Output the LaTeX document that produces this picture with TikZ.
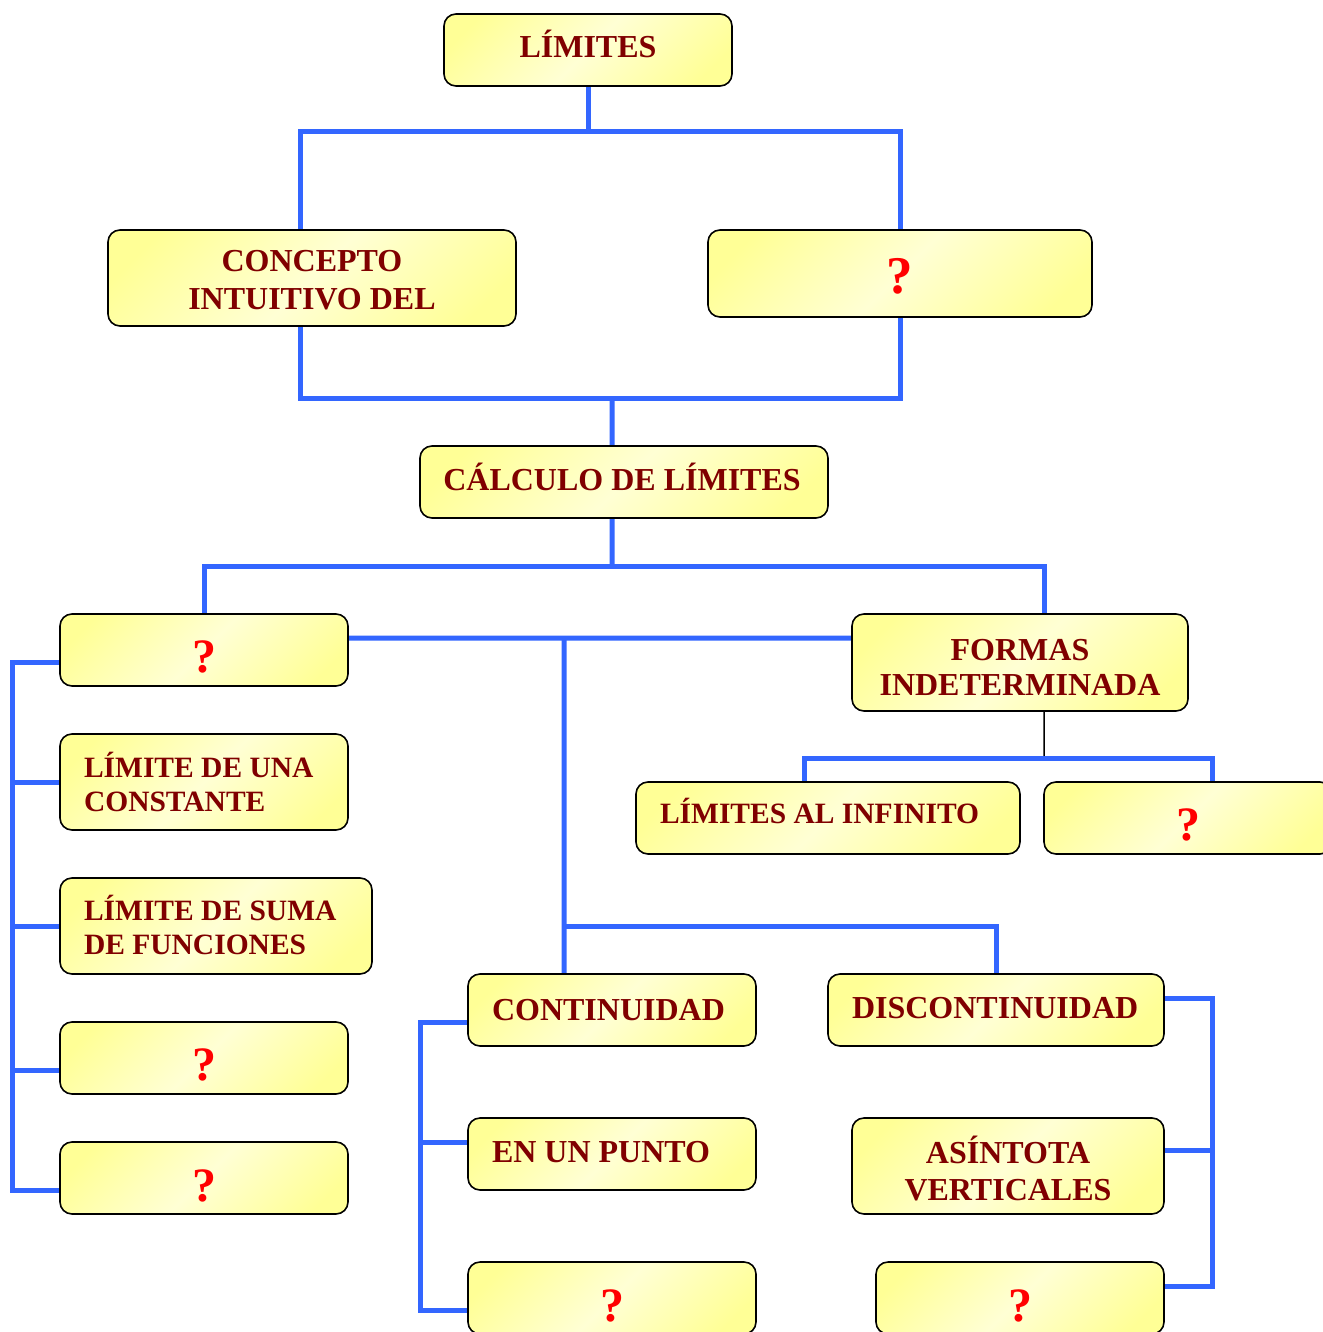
\documentclass[tikz,border=0pt]{standalone}
\usepackage{fontspec}
\setmainfont{Liberation Serif}
\definecolor{boxY}{RGB}{255,255,150}
\definecolor{boxP}{RGB}{255,255,212}
\definecolor{txtred}{RGB}{128,0,0}
\definecolor{qred}{RGB}{255,0,0}
\definecolor{lineblue}{RGB}{51,102,255}
\pgfdeclarehorizontalshading{boxshade}{100bp}{color(0bp)=(boxY); color(22bp)=(boxY); color(50bp)=(boxP); color(78bp)=(boxY); color(100bp)=(boxY)}
\pgfdeclarelayer{back}
\pgfdeclarelayer{bg}
\pgfsetlayers{back,bg,main}
\begin{document}
\begin{tikzpicture}[x=1bp,y=-1bp,
  box/.style={draw=black, line width=1.6bp, rounded corners=12bp, shade, shading=boxshade, shading angle=-45,
    inner sep=0pt, outer sep=0pt},
  txt/.style={inner sep=0pt, outer sep=0pt, text=txtred, font=\fontsize{32bp}{38bp}\selectfont\bfseries},
  stxt/.style={inner sep=0pt, outer sep=0pt, text=txtred, font=\fontsize{29.5bp}{34bp}\selectfont\bfseries},
  qm/.style={inner sep=0pt, outer sep=0pt, text=qred, font=\fontsize{48bp}{50bp}\selectfont\bfseries, anchor=base},
  conn/.style={draw=lineblue, line width=5bp},
  thinline/.style={draw=black, line width=1.5bp}]
\useasboundingbox (0,0) rectangle (1323,1332);
\clip (0,0) rectangle (1323,1332);
\begin{pgfonlayer}{back}
\fill[white] (0,0) rectangle (1323,1332);
\end{pgfonlayer}

% boxes
\node[box, minimum width=288bp, minimum height=72bp] (lim) at (588,50) {};
\node[box, minimum width=408bp, minimum height=96bp] (conc) at (312,278) {};
\node[box, minimum width=384bp, minimum height=87bp] (q1) at (900,273.5) {};
\node[box, minimum width=408bp, minimum height=72bp] (calc) at (624,482) {};
\node[box, minimum width=288bp, minimum height=72bp] (qa) at (204,650) {};
\node[box, minimum width=336bp, minimum height=97bp] (formas) at (1020,662.5) {};
\node[box, minimum width=288bp, minimum height=96bp] (cte) at (204,782) {};
\node[box, minimum width=312bp, minimum height=96bp] (suma) at (216,926) {};
\node[box, minimum width=288bp, minimum height=72bp] (qb) at (204,1058) {};
\node[box, minimum width=288bp, minimum height=72bp] (qc) at (204,1178) {};
\node[box, minimum width=384bp, minimum height=72bp] (inf) at (828,818) {};
\node[box, minimum width=288bp, minimum height=72bp] (qd) at (1188,818) {};
\node[box, minimum width=288bp, minimum height=72bp] (cont) at (612,1010) {};
\node[box, minimum width=336bp, minimum height=72bp] (disc) at (996,1010) {};
\node[box, minimum width=288bp, minimum height=72bp] (punto) at (612,1154) {};
\node[box, minimum width=312bp, minimum height=96bp] (asint) at (1008,1166) {};
\node[box, minimum width=288bp, minimum height=72bp] (qe) at (612,1298) {};
\node[box, minimum width=288bp, minimum height=72bp] (qf) at (1020,1298) {};

% texts
\node[txt, anchor=base] (limT) at (588,58) {LÍMITES};
\node[txt, anchor=base] (concT1) at (312,272) {CONCEPTO};
\node[txt, anchor=base] (concT2) at (312,310) {INTUITIVO DEL};
\node[qm, font=\fontsize{53bp}{55bp}\selectfont\bfseries] (q1T) at (900,294) {?};
\node[txt, anchor=base] (calcT) at (622,490) {CÁLCULO DE LÍMITES};
\node[qm] (qaT) at (204,672) {?};
\node[txt, anchor=base] (formasT1) at (1020,660) {FORMAS};
\node[txt, anchor=base] (formasT2) at (1020,695) {INDETERMINADA};
\node[stxt, anchor=base west] (cteT1) at (84,777) {LÍMITE DE UNA};
\node[stxt, anchor=base west] (cteT2) at (84,811) {CONSTANTE};
\node[stxt, anchor=base west] (sumaT1) at (84,920) {LÍMITE DE SUMA};
\node[stxt, anchor=base west] (sumaT2) at (84,954) {DE FUNCIONES};
\node[qm] (qbT) at (204,1080) {?};
\node[qm] (qcT) at (204,1201) {?};
\node[stxt, anchor=base west] (infT) at (660,823) {LÍMITES AL INFINITO};
\node[qm] (qdT) at (1188,840) {?};
\node[txt, anchor=base west] (contT) at (492,1020) {CONTINUIDAD};
\node[txt, anchor=base west] (discT) at (852,1018) {DISCONTINUIDAD};
\node[txt, anchor=base west] (puntoT) at (492,1162) {EN UN PUNTO};
\node[txt, anchor=base] (asintT1) at (1008,1163) {ASÍNTOTA};
\node[txt, anchor=base] (asintT2) at (1008,1200) {VERTICALES};
\node[qm] (qeT) at (612,1321) {?};
\node[qm] (qfT) at (1020,1321) {?};

% connectors
\begin{pgfonlayer}{bg}
\coordinate (j1) at (588,132);
\draw[conn] (lim.south) -- (j1);
\draw[conn] ([xshift=-12bp]conc.north) |- (j1 -| q1.north) -- (q1.north);

\coordinate (j2) at (612,398);
\draw[conn] ([xshift=-12bp]conc.south) |- (j2 -| q1.south) -- (q1.south);
\draw[conn] (j2) -- ([xshift=-12bp]calc.north);

\coordinate (j3) at (612,566);
\coordinate (fn) at ([xshift=24bp]formas.north);
\draw[conn] ([xshift=-12bp]calc.south) -- (j3);
\draw[conn] (qa.north) |- (j3 -| fn) -- (fn);

\coordinate (j4) at (564,638);
\coordinate (cn) at ([xshift=-48bp]cont.north);
\coordinate (j5) at (564,926);
\draw[conn] ([yshift=12bp]qa.east) -- (j4 -| formas.west);
\draw[conn] (j4) -- (cn);
\draw[conn] (j5) -| (disc.north);

\coordinate (L) at (12,0);
\coordinate (qaW) at ([yshift=-12bp]qa.west);
\coordinate (qbW) at ([yshift=-12bp]qb.west);
\coordinate (qcW) at ([yshift=-12bp]qc.west);
\draw[conn] (qaW) -- (qaW -| L) -- (qcW -| L) -- (qcW);
\draw[conn] (cte.west) -- (cte.west -| L);
\draw[conn] (suma.west) -- (suma.west -| L);
\draw[conn] (qbW) -- (qbW -| L);

\coordinate (fs) at ([xshift=24bp]formas.south);
\coordinate (j6) at (1044,758);
\draw[thinline] (fs) -- (j6);
\draw[conn] ([xshift=-24bp]inf.north) |- (j6) -| ([xshift=24bp]qd.north);

\coordinate (C) at (420,0);
\coordinate (cW) at ([yshift=-12bp]cont.west);
\coordinate (pW) at ([yshift=12bp]punto.west);
\coordinate (qeW) at ([yshift=-12bp]qe.west);
\draw[conn] (cW) -- (cW -| C) -- (qeW -| C) -- (qeW);
\draw[conn] (pW) -- (pW -| C);

\coordinate (D) at (1212,0);
\coordinate (dE) at ([yshift=12bp]disc.east);
\coordinate (aE) at ([yshift=16bp]asint.east);
\coordinate (qfE) at ([yshift=12bp]qf.east);
\draw[conn] (dE) -- (dE -| D) -- (qfE -| D) -- (qfE);
\draw[conn] (aE) -- (aE -| D);
\end{pgfonlayer}
\end{tikzpicture}
\end{document}
